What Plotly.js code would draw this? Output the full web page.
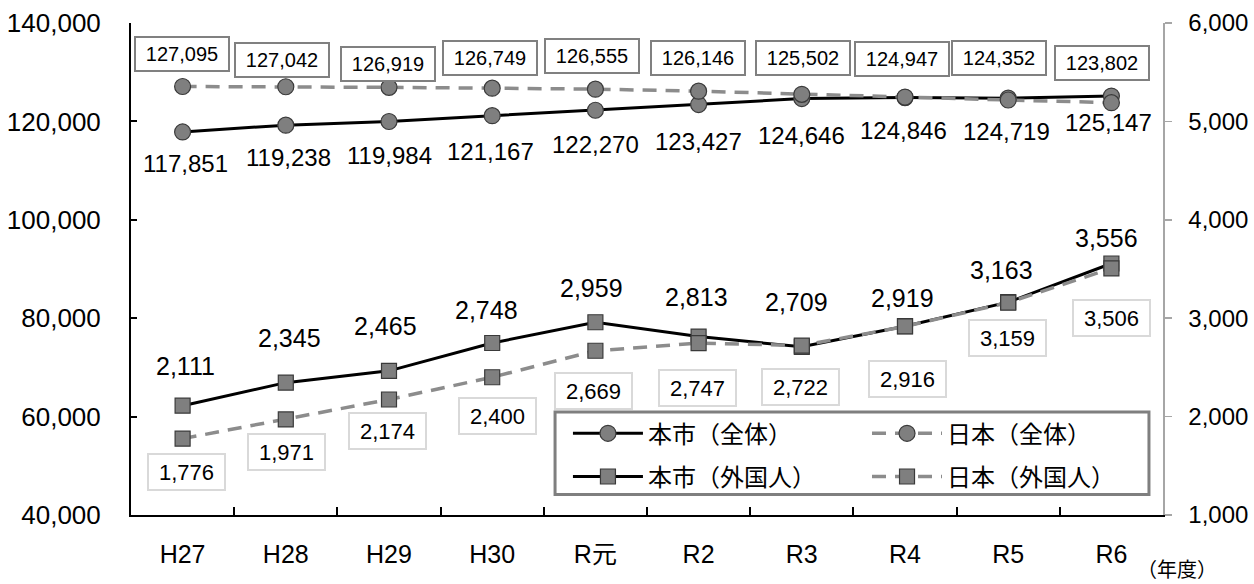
<!DOCTYPE html>
<html><head><meta charset="utf-8">
<script src="https://cdn.plot.ly/plotly-3.0.1.min.js"></script>
<style>html,body{margin:0;padding:0;background:#fff}#chart{width:1254px;height:584px}</style>
</head><body><div id="chart"></div>
<script>
// ---- data ----
const years = ['H27','H28','H29','H30','R元','R2','R3','R4','R5','R6'];
const cityTotal = [117851,119238,119984,121167,122270,123427,124646,124846,124719,125147];
const japanTotal = [127095,127042,126919,126749,126555,126146,125502,124947,124352,123802];
const cityForeign = [2111,2345,2465,2748,2959,2813,2709,2919,3163,3556];
const japanForeign = [1776,1971,2174,2400,2669,2747,2722,2916,3159,3506];
const seriesNames = ['本市（全体）','日本（全体）','本市（外国人）','日本（外国人）'];
const unitLabel = '（年度）';

// ---- label placement (pixel nudges relative to each point) ----
const cityTotalDy = [-32,-32,-34,-36,-34,-37,-37,-33,-33,-26];
const cityTotalDx = [3,3,0,-2,0,0,0,-2,-2,-3];
const japanTotalDy = [32,27,23,30,33,33,36,38,42,40];
const japanTotalDx = [-1,-4,-1,-2,-3,-1,1,-3,-9,-9];
const cityForeignDy = [40,45,45,33,34,40,45,28,32,25];
const cityForeignDx = [3,4,-4,-6,-4,-2,-5,-3,-7,-5];
const japanForeignDy = [-33,-33,-32,-39,-40,-45,-41,-53,-35,-50];
const japanForeignDx = [4,1,-2,5,-2,-1,-1,2,-1,0];

const NUM_FONT = 'Liberation Sans, Arial, Noto Sans CJK JP, sans-serif';
const CJK_FONT = 'Noto Sans CJK JP, sans-serif';
const fmt = v => v.toLocaleString('en-US');

const markerCircle = {symbol:'circle', size:16, color:'#7f7f7f', line:{color:'#3a3a3a', width:1.2}};
const markerSquare = {symbol:'square', size:15, color:'#7f7f7f', line:{color:'#3a3a3a', width:1.2}};

const traces = [
  {x:years, y:cityTotal, name:seriesNames[0], type:'scatter', mode:'lines+markers', yaxis:'y',
   line:{color:'#000', width:3}, marker:markerCircle, legend:'legend', legendgroup:'a'},
  {x:years, y:japanTotal, name:seriesNames[1], type:'scatter', mode:'lines+markers', yaxis:'y',
   line:{color:'#8c8c8c', width:3.5, dash:'14px,9px'}, marker:markerCircle, legend:'legend2', legendgroup:'b'},
  {x:years, y:cityForeign, name:seriesNames[2], type:'scatter', mode:'lines+markers', yaxis:'y2',
   line:{color:'#000', width:3}, marker:markerSquare, legend:'legend', legendgroup:'c'},
  {x:years, y:japanForeign, name:seriesNames[3], type:'scatter', mode:'lines+markers', yaxis:'y2',
   line:{color:'#8c8c8c', width:3.5, dash:'14px,9px'}, marker:markerSquare, legend:'legend2', legendgroup:'d'}
];

const annotations = [];
function addLabels(vals, yref, dx, dy, style) {
  vals.forEach((v, i) => {
    annotations.push(Object.assign({
      x: years[i], y: v, xref:'x', yref:yref, text: fmt(v), showarrow:false,
      xanchor:'center', yanchor:'middle', xshift: dx[i], yshift: dy[i]
    }, style));
  });
}
addLabels(cityTotal, 'y', cityTotalDx, cityTotalDy, {font:{family:NUM_FONT, size:24, color:'#000'}});
addLabels(japanTotal, 'y', japanTotalDx, japanTotalDy, {font:{family:NUM_FONT, size:20, color:'#000'},
  bgcolor:'#fff', bordercolor:'#808080', borderwidth:2, borderpad:2, width:88, height:28});
addLabels(cityForeign, 'y2', cityForeignDx, cityForeignDy, {font:{family:NUM_FONT, size:25, color:'#000'}});
addLabels(japanForeign, 'y2', japanForeignDx, japanForeignDy, {font:{family:NUM_FONT, size:22, color:'#000'},
  bgcolor:'#fff', bordercolor:'#d9d9d9', borderwidth:2, borderpad:2, width:71, height:30});

annotations.push({xref:'paper', yref:'paper', x:1.0136, y:-0.108, text:unitLabel, showarrow:false,
  xanchor:'center', yanchor:'middle', font:{family:CJK_FONT, size:20, color:'#000'}});

const legendBase = {xanchor:'left', yanchor:'top', bgcolor:'rgba(0,0,0,0)', borderwidth:0,
  font:{family:CJK_FONT, size:24, color:'#000'}, itemwidth:70, tracegroupgap:9, orientation:'v'};

const layout = {
  width:1254, height:584,
  margin:{l:131, r:91, t:23, b:69, pad:0},
  paper_bgcolor:'#fff', plot_bgcolor:'#fff',
  font:{family:NUM_FONT, color:'#000'},
  showlegend:true,
  legend: Object.assign({}, legendBase, {x:0.4234, y:0.211}),
  legend2: Object.assign({}, legendBase, {x:0.7132, y:0.211}),
  xaxis:{type:'category', range:[-0.5, 9.5], showgrid:false, zeroline:false,
    showline:true, linecolor:'#000', linewidth:2,
    ticks:'inside', tickson:'boundaries', ticklen:8, tickwidth:2, tickcolor:'#000',
    tickfont:{family:NUM_FONT, size:25, color:'#000'}, ticklabelstandoff:16},
  yaxis:{range:[40000,140000], dtick:20000, tickformat:',d', showgrid:false, zeroline:false,
    showline:true, linecolor:'#000', linewidth:2,
    ticks:'inside', ticklen:6, tickwidth:2, tickcolor:'#000',
    tickfont:{family:NUM_FONT, size:26, color:'#000'}, ticklabelstandoff:23},
  yaxis2:{range:[1000,6000], dtick:1000, tickformat:',d', overlaying:'y', side:'right',
    showgrid:false, zeroline:false, showline:true, linecolor:'#a6a6a6', linewidth:1.5,
    ticks:'outside', ticklen:7, tickwidth:1.5, tickcolor:'#a6a6a6',
    tickfont:{family:NUM_FONT, size:24, color:'#000'}, ticklabelstandoff:12},
  shapes:[{type:'rect', xref:'paper', yref:'paper', x0:0.4109, x1:0.9864, y0:0.0417, y1:0.2093,
    line:{color:'#7f7f7f', width:3}, fillcolor:'#fff', layer:'above'}],
  annotations: annotations
};

Plotly.newPlot('chart', traces, layout, {displayModeBar:false, staticPlot:true});
</script></body></html>
